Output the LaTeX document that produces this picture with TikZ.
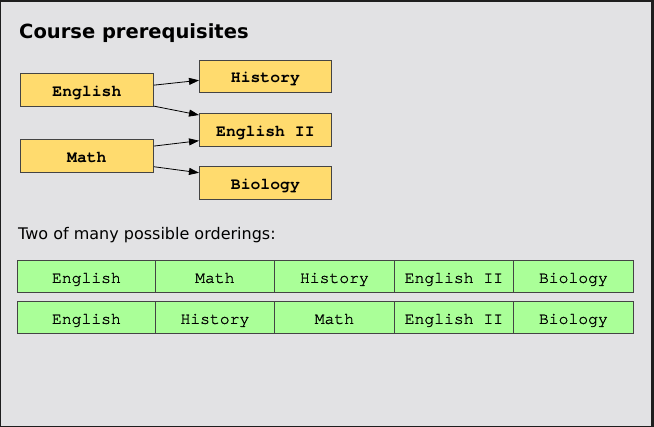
\documentclass[tikz,border=0pt]{standalone}
\usepackage{fontspec}
\setmainfont{DejaVu Sans}
\newfontfamily\monofont{TeX Gyre Cursor}
\newfontfamily\cellfont[FakeBold=1.2]{TeX Gyre Cursor}
\usetikzlibrary{arrows.meta,calc}
\definecolor{frame}{HTML}{1E1E1E}
\definecolor{panel}{HTML}{E2E2E4}
\definecolor{ybox}{HTML}{FFDB6E}
\definecolor{gbox}{HTML}{AAFF98}
\definecolor{edge}{HTML}{444444}
\begin{document}
\begin{tikzpicture}[x=1pt,y=-1pt,
  course/.style={draw=edge,line width=0.8pt,fill=ybox,minimum width=133pt,minimum height=33pt,inner sep=0pt,
    text height=13pt,text depth=0pt,font=\monofont\bfseries\fontsize{16.4}{16.4}\selectfont},
  cell/.style={draw=edge,line width=0.8pt,fill=gbox,minimum height=32pt,inner sep=0pt,
    text height=13pt,text depth=0pt,font=\cellfont\fontsize{16.4}{16.4}\selectfont},
  prereq/.style={-{Triangle[length=10pt,width=7pt]},line width=0.8pt,black}]
\fill[frame] (0,0) rectangle (654,427);
\fill[panel] (1,2) rectangle (651,426);
\useasboundingbox (0,0) rectangle (654,427);

\node[anchor=base west,inner sep=0pt,font=\bfseries\fontsize{19.5}{19.5}\selectfont] (title) at (19,39) {Course prerequisites};

\node[course,anchor=north west] (english) at (20,73) {English};
\node[course,anchor=north west] (math) at (20,139) {Math};
\node[course,anchor=north west,minimum width=132pt,minimum height=32pt] (history) at (199,60) {History};
\node[course,anchor=north west,minimum width=132pt] (english2) at (199,113) {English II};
\node[course,anchor=north west,minimum width=132pt] (biology) at (199,166) {Biology};

\coordinate (e1) at ($(english.north east)!0.36!(english.south east)$);
\coordinate (e2) at ($(english.north east)!0.98!(english.south east)$);
\coordinate (m1) at ($(math.north east)!0.21!(math.south east)$);
\coordinate (m2) at ($(math.north east)!0.82!(math.south east)$);
\coordinate (h1) at ($(history.north west)!0.62!(history.south west)$);
\coordinate (x1) at ($(english2.north west)!0.06!(english2.south west)$);
\coordinate (x2) at ($(english2.north west)!0.82!(english2.south west)$);
\coordinate (b1) at ($(biology.north west)!0.2!(biology.south west)$);
\draw[prereq] (e1) -- (h1);
\draw[prereq] (e2) -- (x1);
\draw[prereq] (m1) -- (x2);
\draw[prereq] (m2) -- (b1);

\node[anchor=base west,inner sep=0pt,font=\fontsize{16}{16}\selectfont] (caption) at (18,240) {Two of many possible orderings:};

\node[cell,anchor=north west,minimum width=138pt] (a1) at (17,260) {English};
\node[cell,anchor=north west,minimum width=119pt] (a2) at (155,260) {Math};
\node[cell,anchor=north west,minimum width=120pt] (a3) at (274,260) {History};
\node[cell,anchor=north west,minimum width=119pt] (a4) at (394,260) {English II};
\node[cell,anchor=north west,minimum width=120pt] (a5) at (513,260) {Biology};

\node[cell,anchor=north west,minimum width=138pt] (b1n) at (17,301) {English};
\node[cell,anchor=north west,minimum width=119pt] (b2n) at (155,301) {History};
\node[cell,anchor=north west,minimum width=120pt] (b3n) at (274,301) {Math};
\node[cell,anchor=north west,minimum width=119pt] (b4n) at (394,301) {English II};
\node[cell,anchor=north west,minimum width=120pt] (b5n) at (513,301) {Biology};
\end{tikzpicture}
\end{document}
